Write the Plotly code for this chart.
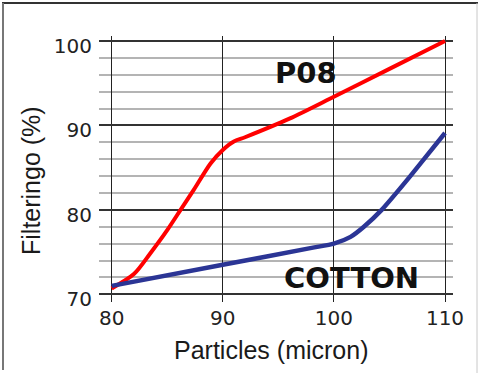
import plotly.graph_objects as go

# Data
p08_x = [80, 82, 83.5, 85, 86.2, 87.4, 88.9, 90, 91, 92, 96, 100, 105, 110]
p08_y = [70.7, 72.4, 74.9, 77.6, 80.0, 82.4, 85.5, 87.1, 88.1, 88.6, 90.8, 93.4, 96.7, 100]
cot_x = [80, 90, 98, 100, 101.5, 102.7, 104.3, 106, 107.8, 110]
cot_y = [71.0, 73.5, 75.5, 76.0, 76.8, 78.0, 80.0, 82.6, 85.5, 89.1]
x_ticks = [80, 90, 100, 110]
y_ticks = [70, 80, 90, 100]
labels = {"P08": (97.5, 96.2), "COTTON": (101.6, 71.9)}

W, H = 480, 373
L, R, T, B = 99, 27, 36, 71
pw, ph = W - L - R, H - T - B

def px(X):
    return (X - L) / pw

def py(Y):
    return (H - B - Y) / ph

fig = go.Figure()
fig.add_trace(go.Scatter(x=p08_x, y=p08_y, mode="lines",
                         line=dict(color="#ff0000", width=4, shape="spline", smoothing=0.8)))
fig.add_trace(go.Scatter(x=cot_x, y=cot_y, mode="lines",
                         line=dict(color="#2b3595", width=4.5, shape="spline", smoothing=0.6)))

for name, (lx, ly) in labels.items():
    fig.add_annotation(x=lx, y=ly, text="<b>%s</b>" % name, showarrow=False,
                       font=dict(family="DejaVu Sans", size=29, color="#111", weight=900),
                       xanchor="center", yanchor="middle")

fig.add_annotation(x=px(271), y=py(350), xref="paper", yref="paper", text="Particles (micron)",
                   showarrow=False, font=dict(family="Liberation Sans", size=25, color="#1a1a1a"),
                   xanchor="center", yanchor="middle")
fig.add_annotation(x=px(31), y=py(181), xref="paper", yref="paper", text="Filteringo (%)",
                   textangle=-90, showarrow=False,
                   font=dict(family="Liberation Sans", size=25, color="#1a1a1a"),
                   xanchor="center", yanchor="middle")

# image frame
fig.add_shape(type="line", xref="paper", yref="paper", x0=px(2), x1=px(478), y0=py(3), y1=py(3),
              line=dict(color="#333", width=2))
fig.add_shape(type="line", xref="paper", yref="paper", x0=px(3), x1=px(3), y0=py(3), y1=py(370),
              line=dict(color="#777", width=2))
fig.add_shape(type="line", xref="paper", yref="paper", x0=px(477), x1=px(477), y0=py(3), y1=py(373),
              line=dict(color="#c8c8c8", width=1))

fig.update_layout(
    width=W, height=H, margin=dict(l=L, r=R, t=T, b=B, autoexpand=False),
    paper_bgcolor="white", plot_bgcolor="white", showlegend=False,
    xaxis=dict(range=[78.86, 110.72], tickvals=x_ticks, showgrid=True, gridcolor="#222",
               gridwidth=1.3, zeroline=False, showline=False, ticks="", automargin=False,
               tickfont=dict(family="DejaVu Sans", size=20, color="#222"), ticklabelstandoff=2),
    yaxis=dict(range=[69.09, 100.59], tickvals=y_ticks, showgrid=True, gridcolor="#333",
               gridwidth=1.5, zeroline=False, showline=False, ticks="", automargin=False,
               minor=dict(dtick=2, tick0=70, showgrid=True, gridcolor="#b4b4b4", gridwidth=1.5),
               tickfont=dict(family="DejaVu Sans", size=20, color="#222"),
               ticklabelstandoff=6, ticklabelshift=5),
)

fig.write_html("out.html", config={"displayModeBar": False},
               post_script="document.body.style.margin='0';")
